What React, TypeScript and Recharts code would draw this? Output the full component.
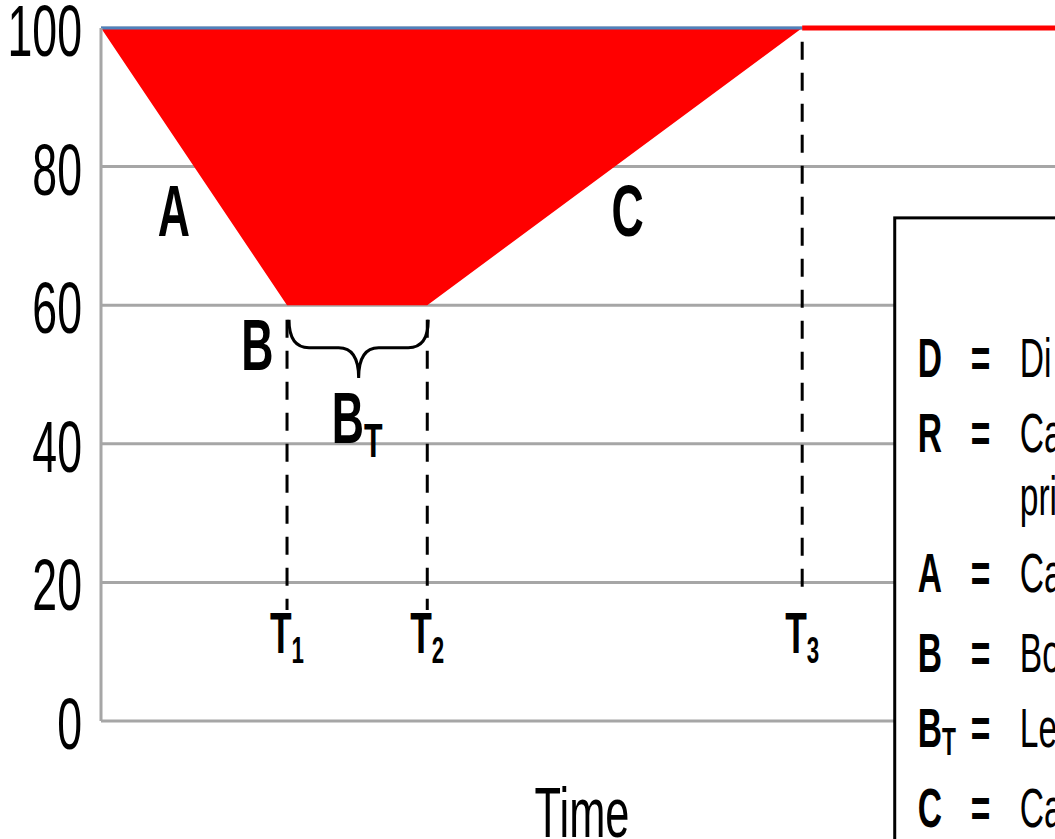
import { ComposedChart, Area, Line, XAxis, YAxis, CartesianGrid, ReferenceLine, ReferenceDot, ReferenceArea } from 'recharts';

// capacity over time: drop (A), bottom (B), recovery (C)
const timePoints = [0, 19.5, 34.2, 73.5, 100];
const capacityDip = [100, 60, 60, 100, 100];
const beforeRecovery = [100, 100, 100, 100, null];
const afterRecovery = [null, null, null, 100, 100];
const yTicks = [0, 20, 40, 60, 80, 100];

// dashed time markers T1..T3
const markerTimes = [19.5, 34.2, 73.5];
const markerSubs = ['1', '2', '3'];
const markerTop = [57.9, 57.9, 98];
const markerBottom = [16, 16, 18.6];
const markerLabelY = 9.8;

// phase letters on the plot
const phaseLetters = ['A', 'B', 'C'];
const phaseX = [7.65, 16.4, 55.2];
const phaseY = [70, 50.6, 70];

// bottom-duration brace
const braceTop = 57.9;
const braceTip = 49.5;
const braceLabelY = 40.1;

// legend box (cut off at the right in the source)
const legendKeys = ['D', 'R', '', 'A', 'B', 'B', 'C'];
const legendSubs = ['', '', '', '', '', 'T', ''];
const legendText = ['Di', 'Ca', 'pri', 'Ca', 'Bo', 'Le', 'Ca'];
const legendLeft = 83.2;
const legendTopValue = 72.6;

const data = timePoints.map((t, i) => ({
  t,
  dip: [capacityDip[i], 100],
  before: beforeRecovery[i],
  after: afterRecovery[i],
}));

const FONT = '"Liberation Sans", Arial, sans-serif';
const SQUEEZE = 0.62;
const GRID = '#a6a6a6';

const Squeezed = ({ x, y, size, bold = false, anchor = 'start', children }: any) => (
  <text
    transform={`translate(${x} ${y}) scale(${SQUEEZE} 1)`}
    x={0}
    y={0}
    fontFamily={FONT}
    fontSize={size}
    fontWeight={bold ? 700 : 400}
    textAnchor={anchor}
    fill="#000"
  >
    {children}
  </text>
);

const YTick = ({ x, y, payload }: any) => (
  <Squeezed x={x} y={y + 28} size={72} anchor="end">
    {payload.value}
  </Squeezed>
);

const TimeLabel = ({ viewBox }: any) => (
  <Squeezed x={viewBox.x + viewBox.width / 2 + 4} y={viewBox.y + viewBox.height - 2} size={70} anchor="middle">
    Time
  </Squeezed>
);

const Brace = ({ x, y, width, height }: any) => {
  const l = x + 2;
  const r = x + width + 1;
  const m = (l + r) / 2;
  const mid = y + height * 0.48;
  const tip = y + height;
  const c = 20;
  const d = `M${l},${y} Q${l},${mid} ${l + c},${mid} L${m - c},${mid} Q${m},${mid} ${m},${tip} Q${m},${mid} ${m + c},${mid} L${r - c},${mid} Q${r},${mid} ${r},${y}`;
  return <path d={d} fill="none" stroke="#000" strokeWidth={3} />;
};

const LegendBox = ({ x, y, width, height }: any) => {
  const rows = [159, 234, 297, 374, 454, 529, 609];
  return (
    <g>
      <rect x={x} y={y} width={width} height={height} fill="#fff" stroke="#000" strokeWidth={3} />
      {legendText.map((txt, i) => (
        <g key={i}>
          {legendKeys[i] && (
            <text
              transform={`translate(${x + 23} ${y + rows[i]}) scale(0.6 1)`}
              fontFamily={FONT}
              fontSize={56}
              fontWeight={700}
              fill="#000"
            >
              {legendKeys[i]}
              {legendSubs[i] && (
                <tspan fontSize={38} dy={8}>
                  {legendSubs[i]}
                </tspan>
              )}
            </text>
          )}
          {legendKeys[i] && (
            <text
              transform={`translate(${x + 76} ${y + rows[i]}) scale(0.6 1)`}
              fontFamily={FONT}
              fontSize={56}
              fontWeight={700}
              fill="#000"
            >
              =
            </text>
          )}
          <text
            transform={`translate(${x + 125} ${y + rows[i]}) scale(0.6 1)`}
            fontFamily={FONT}
            fontSize={56}
            fill="#000"
          >
            {txt}
          </text>
        </g>
      ))}
    </g>
  );
};

export default function App() {
  return (
    <div style={{ position: 'absolute', left: 0, top: 0, width: 1055, height: 839, background: '#fff' }}>
      <ComposedChart width={1055} height={839} data={data} margin={{ top: 28, right: 0, bottom: 0, left: 0 }}>
        <CartesianGrid vertical={false} stroke={GRID} strokeWidth={3} />
        <XAxis
          dataKey="t"
          type="number"
          domain={[0, 100]}
          height={118}
          tick={false}
          axisLine={false}
          tickLine={false}
          label={{ value: 'Time', content: TimeLabel }}
        />
        <YAxis
          type="number"
          domain={[0, 100]}
          ticks={yTicks}
          width={101}
          axisLine={{ stroke: GRID, strokeWidth: 3 }}
          tickLine={false}
          tickSize={0}
          tickMargin={19}
          tick={YTick}
        />
        <Area
          type="linear"
          dataKey="dip"
          stroke="none"
          fill="#ff0000"
          fillOpacity={1}
          isAnimationActive={false}
        />
        <Line type="linear" dataKey="before" stroke="#4f81bd" strokeWidth={3} dot={false} isAnimationActive={false} />
        <Line type="linear" dataKey="after" stroke="#ff0000" strokeWidth={5} dot={false} isAnimationActive={false} />

        {markerTimes.map((t, i) => (
          <ReferenceLine
            key={`m${i}`}
            segment={[
              { x: t, y: markerTop[i] },
              { x: t, y: markerBottom[i] },
            ]}
            stroke="#000"
            strokeWidth={3}
            strokeDasharray="18 13"
          />
        ))}
        {markerTimes.map((t, i) => (
          <ReferenceDot
            key={`ml${i}`}
            x={t}
            y={markerLabelY}
            r={1}
            shape={(p: any) => (
              <Squeezed x={p.cx} y={p.cy} size={57} bold anchor="middle">
                T
                <tspan fontSize={36} dy={10}>
                  {markerSubs[i]}
                </tspan>
              </Squeezed>
            )}
          />
        ))}
        {phaseLetters.map((s, i) => (
          <ReferenceDot
            key={`p${i}`}
            x={phaseX[i]}
            y={phaseY[i]}
            r={1}
            shape={(p: any) => (
              <Squeezed x={p.cx} y={p.cy} size={72} bold anchor="middle">
                {s}
              </Squeezed>
            )}
          />
        ))}
        <ReferenceArea
          x1={markerTimes[0]}
          x2={markerTimes[1]}
          y1={braceTip}
          y2={braceTop}
          shape={Brace}
        />
        <ReferenceDot
          x={(markerTimes[0] + markerTimes[1]) / 2}
          y={braceLabelY}
          r={1}
          shape={(p: any) => (
            <Squeezed x={p.cx} y={p.cy} size={72} bold anchor="middle">
              B
              <tspan fontSize={49} dy={14}>
                T
              </tspan>
            </Squeezed>
          )}
        />
        <ReferenceArea
          x1={legendLeft}
          x2={115}
          y1={-30}
          y2={legendTopValue}
          ifOverflow="visible"
          shape={LegendBox}
        />
      </ComposedChart>
    </div>
  );
}
